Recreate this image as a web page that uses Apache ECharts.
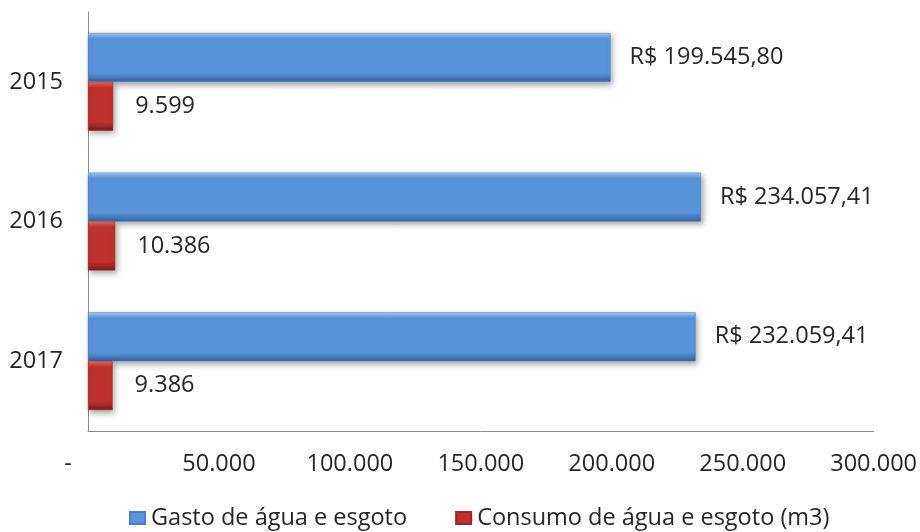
<!DOCTYPE html>
<html>
<head>
<meta charset="utf-8">
<script src="https://cdn.jsdelivr.net/npm/echarts@6/dist/echarts.min.js"></script>
<style>
  html, body { margin: 0; padding: 0; background: #fff; }
  #chart { width: 920px; height: 532px; }
</style>
</head>
<body>
<div id="chart"></div>
<script>
// Water & sewage: annual spending (R$) and consumption (m3)
const years = ['2015', '2016', '2017'];
const gasto = [199545.80, 234057.41, 232059.41];
const consumo = [9599, 10386, 9386];
const seriesNames = ['Gasto de água e esgoto', 'Consumo de água e esgoto (m3)'];
const axisMax = 300000;
const axisStep = 50000;

// Brazilian number formatting: '.' for thousands, ',' for decimals
function fmtBR(v, decimals) {
  const fixed = v.toFixed(decimals);
  const parts = fixed.split('.');
  const intPart = parts[0].replace(/\B(?=(\d{3})+(?!\d))/g, '.');
  return parts.length > 1 ? intPart + ',' + parts[1] : intPart;
}

const FONT = '"Open Sans", "Noto Sans", sans-serif';
const FS = 23.5;
const TXT = '#262626';

function bevel(light, main, dark) {
  return new echarts.graphic.LinearGradient(0, 0, 0, 1, [
    { offset: 0, color: light },
    { offset: 0.12, color: main },
    { offset: 0.82, color: main },
    { offset: 1, color: dark }
  ]);
}

const blueFill = bevel('#a4c8f2', '#5894da', '#34629d');
const redFill = bevel('#ec6a66', '#c0312d', '#7e1a18');

const chart = echarts.init(document.getElementById('chart'));
chart.setOption({
  backgroundColor: '#ffffff',
  animation: false,
  textStyle: { fontFamily: FONT },
  grid: { left: 88, right: 46, top: 12, bottom: 101, containLabel: false },
  xAxis: {
    type: 'value',
    min: 0,
    max: axisMax,
    interval: axisStep,
    splitLine: { show: false },
    axisTick: { show: false },
    axisLine: { show: true, lineStyle: { color: '#8c8c8c', width: 1 } },
    axisLabel: {
      margin: 21,
      fontSize: FS,
      color: TXT,
      fontFamily: FONT,
      formatter: function (v) {
        return v === 0 ? '{dash|-}' : fmtBR(v, 0);
      },
      rich: {
        dash: { fontSize: FS, color: TXT, fontFamily: FONT, padding: [0, 40, 0, 0] }
      }
    }
  },
  yAxis: {
    type: 'category',
    data: years,
    inverse: true,
    axisTick: { show: false },
    axisLine: { show: true, lineStyle: { color: '#8c8c8c', width: 1 } },
    axisLabel: { margin: 25, fontSize: FS, color: TXT, fontFamily: FONT }
  },
  legend: {
    bottom: -3,
    left: 124,
    itemWidth: 15,
    itemHeight: 12,
    itemGap: 48,
    icon: 'rect',
    textStyle: { fontSize: FS, color: TXT, fontFamily: FONT, padding: [0, 0, 0, 1] },
    data: [
      { name: seriesNames[0], itemStyle: { color: blueFill } },
      { name: seriesNames[1], itemStyle: { color: redFill } }
    ]
  },
  series: [
    {
      name: seriesNames[0],
      type: 'bar',
      data: gasto,
      barGap: '0%',
      barCategoryGap: '30%',
      itemStyle: {
        color: blueFill,
        borderColor: '#4a7fc0',
        borderWidth: 0.5,
        shadowColor: 'rgba(0,0,0,0.35)',
        shadowBlur: 6,
        shadowOffsetX: 2,
        shadowOffsetY: 3
      },
      label: {
        show: true,
        position: 'right',
        distance: 19,
        fontSize: FS,
        color: TXT,
        fontFamily: FONT,
        formatter: function (p) { return 'R$ ' + fmtBR(p.value, 2); }
      }
    },
    {
      name: seriesNames[1],
      type: 'bar',
      data: consumo,
      barGap: '0%',
      barCategoryGap: '30%',
      itemStyle: {
        color: redFill,
        borderColor: '#a02824',
        borderWidth: 0.5,
        shadowColor: 'rgba(0,0,0,0.35)',
        shadowBlur: 6,
        shadowOffsetX: 2,
        shadowOffsetY: 3
      },
      label: {
        show: true,
        position: 'right',
        distance: 22,
        fontSize: FS,
        color: TXT,
        fontFamily: FONT,
        formatter: function (p) { return fmtBR(p.value, 0); }
      }
    }
  ]
});
</script>
</body>
</html>
